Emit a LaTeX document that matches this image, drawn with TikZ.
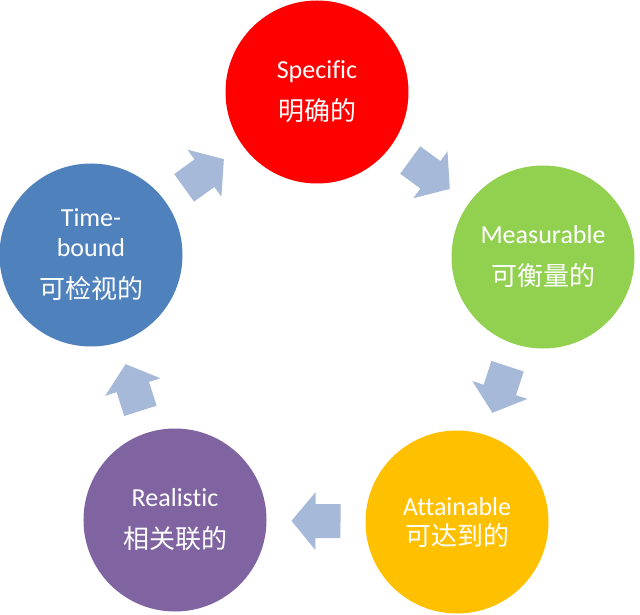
\documentclass[tikz,border=0pt]{standalone}
\usepackage{fontspec}
\setmainfont{Carlito}[Ligatures=NoCommon]
\newfontfamily\cjk{Noto Sans CJK SC}
\usetikzlibrary{calc}
\definecolor{specred}{HTML}{FF0000}
\definecolor{measgreen}{HTML}{92D050}
\definecolor{attorange}{HTML}{FFC000}
\definecolor{realpurple}{HTML}{8064A2}
\definecolor{timeblue}{HTML}{4F81BD}
\definecolor{flowblue}{HTML}{A7B9D8}
\tikzset{
  goal/.style={circle,minimum size=183pt,inner sep=0pt,text=white,align=center,
    font=\fontsize{26}{30}\selectfont},
  flow/.style={fill=flowblue}
}
\begin{document}
\begin{tikzpicture}[x=1pt,y=-1pt]
\useasboundingbox (0,0) rectangle (640,615);
\node[goal,fill=specred] (spec) at (317,92) {Specific\\[12pt]\cjk 明确的};
\node[goal,fill=measgreen] (meas) at (543,257) {Measurable\\[12pt]\cjk 可衡量的};
\node[goal,fill=attorange] (attn) at (457,522) {Attainable\\\cjk 可达到的};
\node[goal,fill=realpurple] (real) at (175,520) {Realistic\\[12pt]\cjk 相关联的};
\node[goal,fill=timeblue] (time) at (91,255) {Time-\\bound\\[12pt]\cjk 可检视的};
\foreach \src/\dst in {time/spec,spec/meas,meas/attn,attn/real,real/time}{
  \coordinate (mid) at ($(\src)!0.5!(\dst)$);
  \pgfmathanglebetweenpoints{\pgfpointanchor{\src}{center}}{\pgfpointanchor{\dst}{center}}
  \let\ang\pgfmathresult
  \fill[flow,shift={(mid)},rotate=\ang] (-24.5,-17) -- (0.5,-17) -- (0.5,-29)
    -- (24.5,0) -- (0.5,29) -- (0.5,17) -- (-24.5,17) -- cycle;
}
\end{tikzpicture}
\end{document}
